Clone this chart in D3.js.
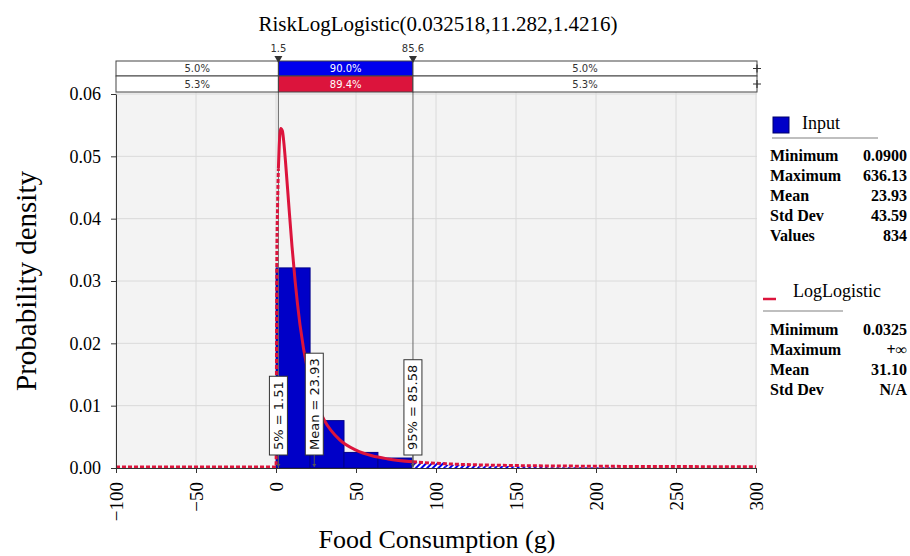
<!DOCTYPE html>
<html>
<head>
<meta charset="utf-8">
<script src="https://cdn.jsdelivr.net/npm/d3@7"></script>
<style>
  body { margin: 0; background: #fff; }
  svg { display: block; }
</style>
</head>
<body>
<svg id="chart"></svg>
<script>
// ---- data ----
const xTicks = [-100, -50, 0, 50, 100, 150, 200, 250, 300];
const yTicks = [0, 0.01, 0.02, 0.03, 0.04, 0.05, 0.06];

// histogram bins (left edges + last right edge) and their densities
const binEdges = [0.09, 21.3, 42.5, 63.7, 84.9, 106.1, 127.3, 148.5, 169.7, 190.9, 212.1];
const binDensity = [0.0321, 0.0076, 0.0025, 0.0016, 0.0009, 0.0005, 0.0003, 0.0002, 0.00012, 0.0001];

// fitted LogLogistic curve, points estimated along the red line
const curveX = [-100, 0.0325, 0.5, 1, 1.5, 2, 2.5, 3, 4, 5, 6, 8, 10, 12, 15, 20, 25, 30, 40, 50, 60, 70, 85.6, 100, 125, 150, 200, 250, 300];
const curveY = [0, 0, 0.0322, 0.0421, 0.0479, 0.0514, 0.0536, 0.0543, 0.0539, 0.0518, 0.0488, 0.0420, 0.0354, 0.0297, 0.0228, 0.0152, 0.0105, 0.0076, 0.0043, 0.0027, 0.0018, 0.0013, 0.00084, 0.00059, 0.00035, 0.00023, 0.00012, 0.00007, 0.00004];

const delimiters = [1.5, 85.6];
const inputPct = ["5.0%", "90.0%", "5.0%"];
const fitPct = ["5.3%", "89.4%", "5.3%"];

const markerLabels = ["5% = 1.51", "Mean = 23.93", "95% = 85.58"];
const markerValues = [1.51, 23.93, 85.58];

const inputStats = [["Minimum", "0.0900"], ["Maximum", "636.13"], ["Mean", "23.93"], ["Std Dev", "43.59"], ["Values", "834"]];
const fitStats = [["Minimum", "0.0325"], ["Maximum", "+\u221e"], ["Mean", "31.10"], ["Std Dev", "N/A"]];

// ---- layout ----
const W = 910, H = 556;
const pLeft = 116, pRight = 757, pTop = 94, pBottom = 468;
const serif = "'Liberation Serif', 'Times New Roman', serif";
const sans = "'DejaVu Sans', Verdana, sans-serif";
const blue = "#0000ee", crimson = "#dc143c";

const svg = d3.select("#chart").attr("width", W).attr("height", H);

const x = d3.scaleLinear().domain([-100, 300]).range([pLeft, pRight - 1]);
const y = d3.scaleLinear().domain([0, 0.06]).range([pBottom, pTop]);

// hatch for the parts outside the delimiters
const defs = svg.append("defs");
const pat = defs.append("pattern")
  .attr("id", "hatch")
  .attr("patternUnits", "userSpaceOnUse")
  .attr("width", 4).attr("height", 4)
  .attr("patternTransform", "rotate(45)");
pat.append("rect").attr("width", 4).attr("height", 4).attr("fill", "#fff");
pat.append("rect").attr("width", 2).attr("height", 4).attr("fill", blue);

// plot background
svg.append("rect")
  .attr("x", pLeft).attr("y", pTop - 2)
  .attr("width", pRight - pLeft).attr("height", pBottom - pTop + 2)
  .attr("fill", "#f3f3f3");

// grid
svg.append("g").selectAll("line")
  .data(xTicks)
  .join("line")
    .attr("x1", d => x(d)).attr("x2", d => x(d))
    .attr("y1", pTop - 2).attr("y2", pBottom)
    .attr("stroke", "#dadada");
svg.append("g").selectAll("line")
  .data(yTicks)
  .join("line")
    .attr("x1", pLeft).attr("x2", pRight)
    .attr("y1", d => y(d)).attr("y2", d => y(d))
    .attr("stroke", "#dadada");

// histogram bars
const bins = binDensity.map((d, i) => ({ x0: binEdges[i], x1: binEdges[i + 1], v: d }));
const inside = bins.filter(b => b.x0 < delimiters[1] - 1);
const outside = bins.filter(b => b.x0 >= delimiters[1] - 1);

svg.append("g").selectAll("rect")
  .data(inside)
  .join("rect")
    .attr("x", d => x(d.x0))
    .attr("y", d => y(d.v))
    .attr("width", d => x(d.x1) - x(d.x0))
    .attr("height", d => pBottom - y(d.v))
    .attr("fill", "#0000c8")
    .attr("stroke", "#00008b")
    .attr("stroke-width", 1);

svg.append("g").selectAll("rect")
  .data(outside)
  .join("rect")
    .attr("x", d => x(Math.max(d.x0, delimiters[1])))
    .attr("y", d => y(d.v))
    .attr("width", d => x(d.x1) - x(Math.max(d.x0, delimiters[1])))
    .attr("height", d => pBottom - y(d.v))
    .attr("fill", "url(#hatch)");

// delimiter lines
svg.append("g").selectAll("line")
  .data(delimiters)
  .join("line")
    .attr("x1", d => x(d)).attr("x2", d => x(d))
    .attr("y1", 60).attr("y2", pBottom)
    .attr("stroke", "#6a6a6a");

// fitted curve: solid inside the delimiters, dashed outside
const pts = curveX.map((d, i) => [d, curveY[i]]);
const line = d3.line()
  .x(d => x(d[0]))
  .y(d => y(d[1]) - 1)
  .curve(d3.curveMonotoneX);

const segLeft = pts.filter(p => p[0] <= delimiters[0]);
const segMid = pts.filter(p => p[0] >= delimiters[0] && p[0] <= delimiters[1]);
const segRight = pts.filter(p => p[0] >= delimiters[1]);

[segLeft, segRight].forEach(seg => {
  svg.append("path")
    .attr("d", line(seg))
    .attr("fill", "none")
    .attr("stroke", crimson)
    .attr("stroke-width", 3)
    .attr("stroke-dasharray", "4,2");
});
svg.append("path")
  .attr("d", line(segMid))
  .attr("fill", "none")
  .attr("stroke", crimson)
  .attr("stroke-width", 3);

// axes
const yAxis = d3.axisLeft(y)
  .tickValues(yTicks)
  .tickFormat(d3.format(".2f"))
  .tickSize(5)
  .tickSizeOuter(0)
  .tickPadding(10);
const gy = svg.append("g")
  .attr("transform", `translate(${pLeft},0)`)
  .call(yAxis);
gy.selectAll("text")
  .attr("font-family", serif)
  .attr("font-size", 18)
  .attr("fill", "#000");
gy.selectAll("line, path").attr("stroke", "#333");

const xAxis = d3.axisBottom(x)
  .tickValues(xTicks)
  .tickSize(5)
  .tickSizeOuter(0);
const gx = svg.append("g")
  .attr("transform", `translate(0,${pBottom})`)
  .call(xAxis);
gx.selectAll("text")
  .attr("font-family", serif)
  .attr("font-size", 19)
  .attr("fill", "#000")
  .attr("transform", "rotate(-90)")
  .attr("x", -14)
  .attr("y", 0)
  .attr("dy", "0.35em")
  .attr("text-anchor", "end");
gx.selectAll("line, path").attr("stroke", "#333");

// marker boxes
markerValues.forEach((v, i) => {
  const cx = x(v);
  const g = svg.append("g");
  const t = g.append("text")
    .attr("font-family", sans)
    .attr("font-size", 13)
    .attr("fill", "#111")
    .attr("text-anchor", "middle")
    .attr("dy", "0.35em")
    .text(markerLabels[i]);
  const len = t.node().getComputedTextLength() + 10;
  const boxBottom = 455;
  g.insert("rect", "text")
    .attr("x", cx - 9).attr("y", boxBottom - len)
    .attr("width", 18).attr("height", len)
    .attr("fill", "#fff")
    .attr("stroke", "#333");
  t.attr("transform", `translate(${cx},${boxBottom - len / 2}) rotate(-90)`);
  g.append("line")
    .attr("x1", cx).attr("x2", cx)
    .attr("y1", boxBottom).attr("y2", pBottom - 1)
    .attr("stroke", "#555");
  g.append("path")
    .attr("d", `M${cx - 2},${pBottom - 4}L${cx + 2},${pBottom - 4}L${cx},${pBottom - 1}Z`)
    .attr("fill", "#555");
});

// top percentage bar
const edges = [pLeft, x(delimiters[0]), x(delimiters[1]), pRight];
const rows = [
  { y0: 61, h: 15, labels: inputPct, mid: blue },
  { y0: 76, h: 16, labels: fitPct, mid: crimson }
];
rows.forEach(r => {
  const g = svg.append("g");
  [0, 1, 2].forEach(k => {
    g.append("rect")
      .attr("x", edges[k]).attr("y", r.y0)
      .attr("width", edges[k + 1] - edges[k]).attr("height", r.h)
      .attr("fill", k === 1 ? r.mid : "#fff")
      .attr("stroke", "#444");
    g.append("text")
      .attr("x", (edges[k] + edges[k + 1]) / 2)
      .attr("y", r.y0 + r.h / 2)
      .attr("dy", "0.35em")
      .attr("text-anchor", "middle")
      .attr("font-family", sans)
      .attr("font-size", 10)
      .attr("fill", k === 1 ? "#fff" : "#333")
      .text(r.labels[k]);
  });
  // little handle at the right end
  const cy = r.y0 + r.h / 2;
  g.append("path")
    .attr("d", `M${pRight - 4},${cy}H${pRight + 4}M${pRight},${cy - 4}V${cy + 4}`)
    .attr("stroke", "#333")
    .attr("stroke-width", 1.2);
});

// delimiter triangles + values
delimiters.forEach(d => {
  svg.append("path")
    .attr("d", `M${x(d) - 4},56L${x(d) + 4},56L${x(d)},63Z`)
    .attr("fill", "#333");
  svg.append("text")
    .attr("x", x(d)).attr("y", 52)
    .attr("text-anchor", "middle")
    .attr("font-family", sans)
    .attr("font-size", 10)
    .attr("fill", "#333")
    .text(d);
});

// titles
svg.append("text")
  .attr("x", 438).attr("y", 31)
  .attr("text-anchor", "middle")
  .attr("font-family", serif)
  .attr("font-size", 21)
  .text("RiskLogLogistic(0.032518,11.282,1.4216)");

svg.append("text")
  .attr("transform", "translate(36,281) rotate(-90)")
  .attr("text-anchor", "middle")
  .attr("font-family", serif)
  .attr("font-size", 29)
  .text("Probability density");

svg.append("text")
  .attr("x", 437).attr("y", 548)
  .attr("text-anchor", "middle")
  .attr("font-family", serif)
  .attr("font-size", 26)
  .text("Food Consumption (g)");

// legend
function statsBlock(rowsData, y0) {
  rowsData.forEach((r, i) => {
    svg.append("text")
      .attr("x", 770).attr("y", y0 + i * 20)
      .attr("font-family", serif).attr("font-weight", "bold")
      .attr("font-size", 16)
      .text(r[0]);
    svg.append("text")
      .attr("x", 907).attr("y", y0 + i * 20)
      .attr("text-anchor", "end")
      .attr("font-family", serif).attr("font-weight", "bold")
      .attr("font-size", 16)
      .text(r[1]);
  });
}

svg.append("rect")
  .attr("x", 773).attr("y", 117).attr("width", 16).attr("height", 16)
  .attr("fill", "#0000c8").attr("stroke", "#00006a");
svg.append("text")
  .attr("x", 802).attr("y", 129)
  .attr("font-family", serif).attr("font-size", 18)
  .text("Input");
svg.append("line")
  .attr("x1", 772).attr("x2", 878).attr("y1", 138).attr("y2", 138)
  .attr("stroke", "#aaa").attr("stroke-width", 1.5);
statsBlock(inputStats, 161);

svg.append("line")
  .attr("x1", 763).attr("x2", 776).attr("y1", 299).attr("y2", 299)
  .attr("stroke", crimson).attr("stroke-width", 2.5);
svg.append("text")
  .attr("x", 793).attr("y", 297)
  .attr("font-family", serif).attr("font-size", 18)
  .text("LogLogistic");
svg.append("line")
  .attr("x1", 763).attr("x2", 843).attr("y1", 311).attr("y2", 311)
  .attr("stroke", "#aaa").attr("stroke-width", 1.5);
statsBlock(fitStats, 335);
</script>
</body>
</html>
